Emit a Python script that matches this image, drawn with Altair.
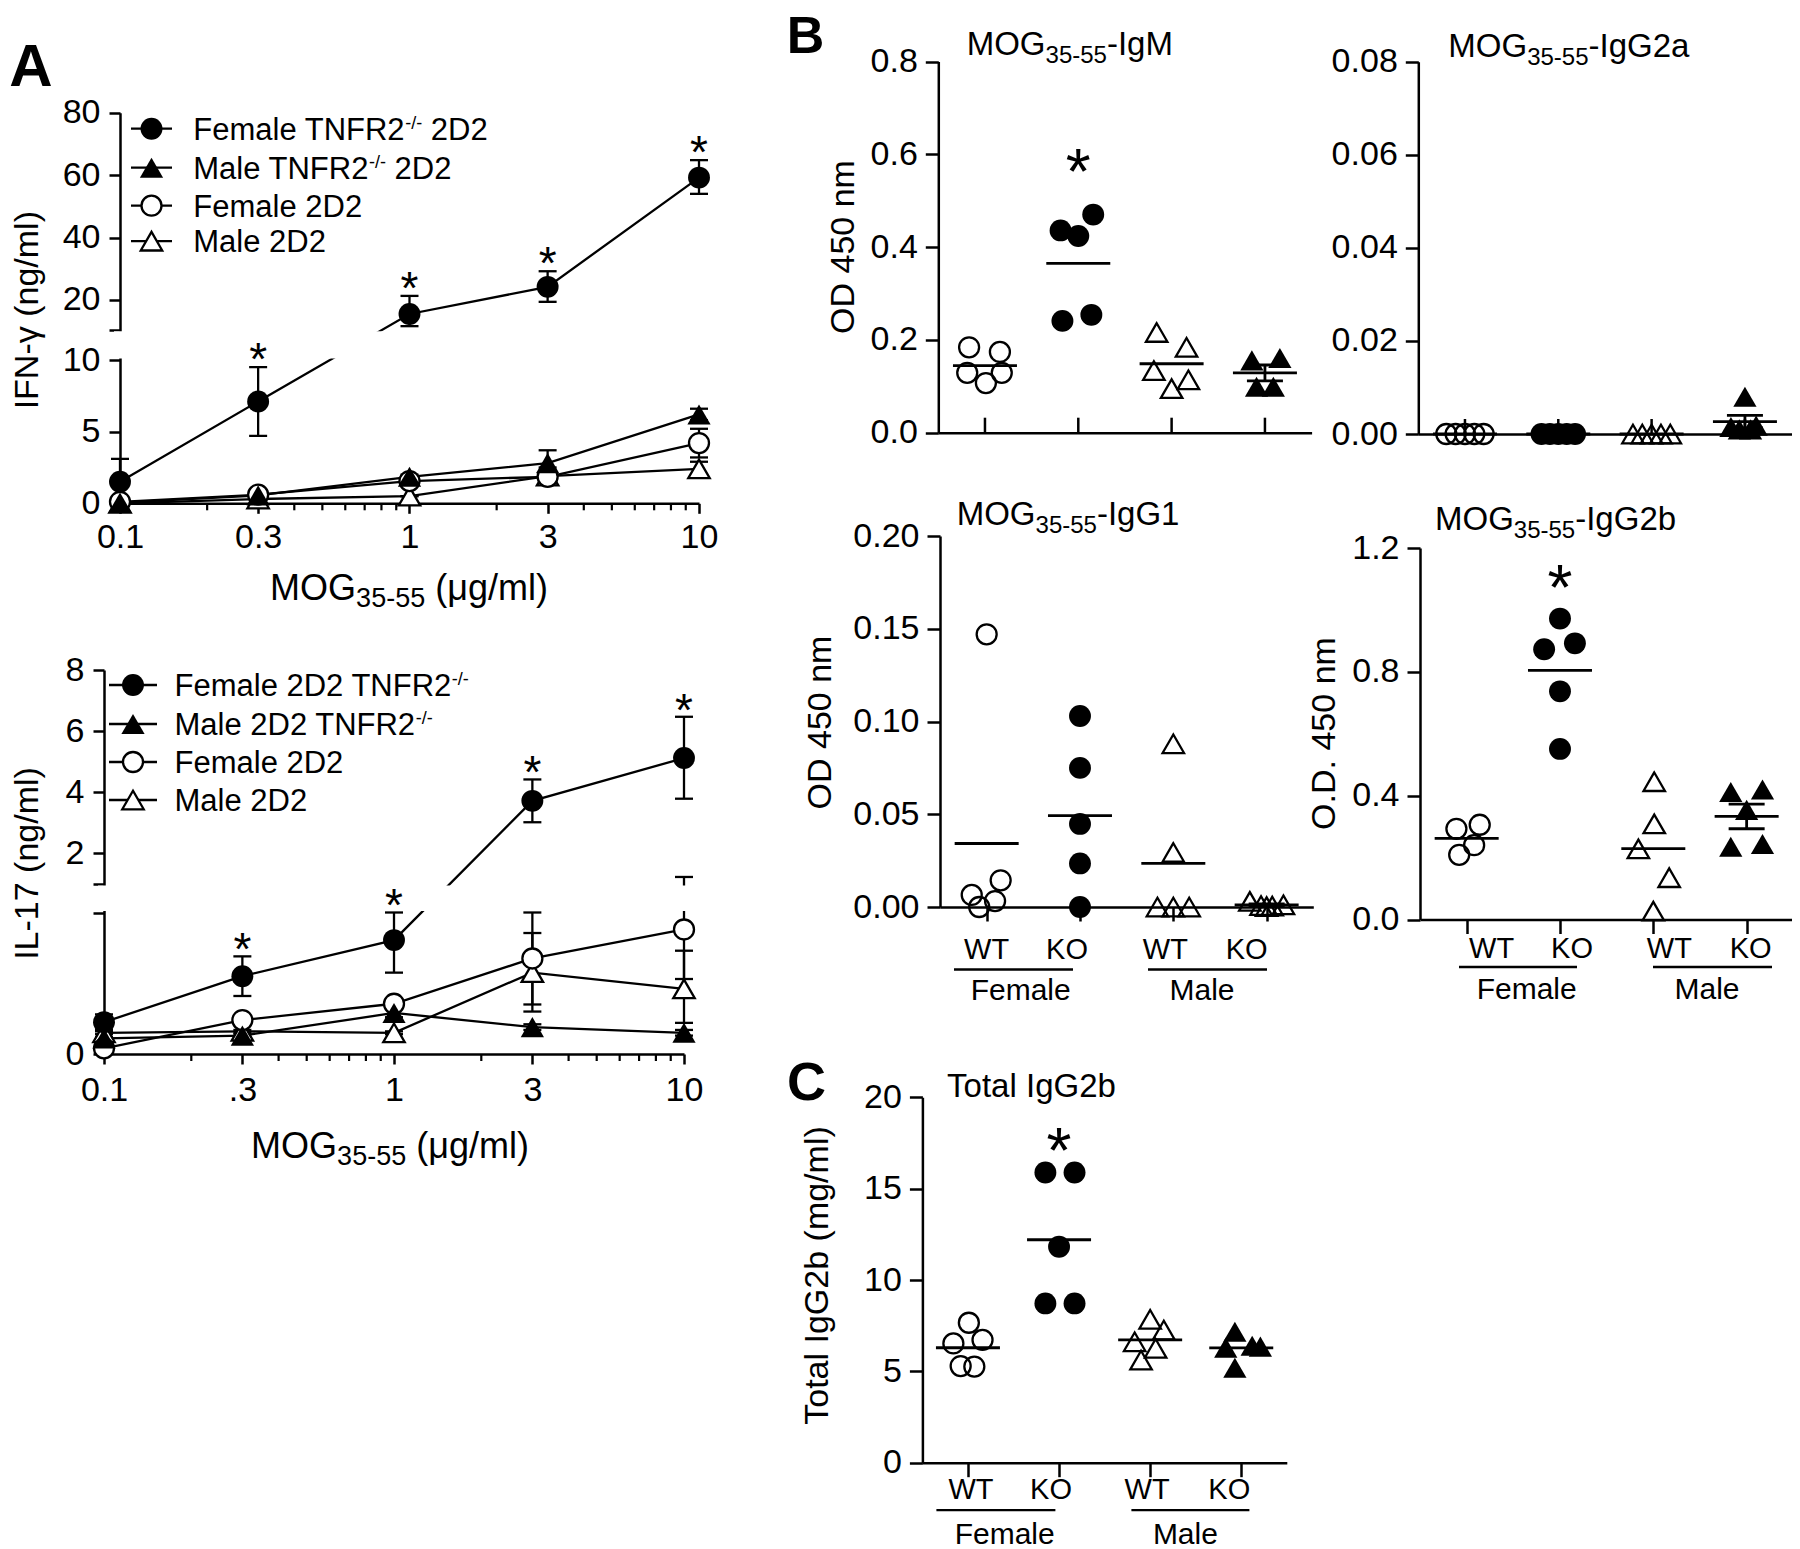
import json
import altair as alt
import pandas as pd

FONT = "Liberation Sans, Arial, Helvetica, sans-serif"
DUMMY = pd.DataFrame({"k": [0]})
CW, CH = 1784, 1541          # drawing area (page minus the 8px margin on top/left)

# ---------------- Panel A : dose response (IFN-gamma, IL-17) ----------------
doses = [0.1, 0.3, 1, 3, 10]
ifn_tick_labels = ["0.1", "0.3", "1", "3", "10"]
il_tick_labels = ["0.1", ".3", "1", "3", "10"]
minor_doses = [0.2, 0.4, 0.5, 0.6, 0.7, 0.8, 0.9, 2, 4, 5, 6, 7, 8, 9]

ifn_fc = [1.5, 7.1, 15.5, 24.2, 59.2]
ifn_fc_lo = [1.5, 4.7, 11.6, 19.4, 54.0]
ifn_fc_hi = [3.1, 9.5, 21.3, 29.2, 64.8]
ifn_ft = [0.05, 0.55, 1.85, 2.8, 6.2]
ifn_ft_lo = [0.05, 0.5, 1.7, 2.5, 5.8]
ifn_ft_hi = [0.05, 0.6, 2.0, 3.7, 6.6]
ifn_oc = [0.1, 0.6, 1.55, 1.85, 4.2]
ifn_oc_lo = [0.1, 0.55, 1.4, 1.65, 3.2]
ifn_oc_hi = [0.1, 0.65, 1.7, 2.05, 5.2]
ifn_ot = [0.0, 0.3, 0.5, 1.9, 2.4]
ifn_ot_lo = [0.0, 0.3, 0.5, 1.6, 1.8]
ifn_ot_hi = [0.0, 0.3, 0.5, 2.2, 2.9]

il_fc = [0.225, 0.55, 0.805, 3.72, 5.12]
il_fc_lo = [0.17, 0.41, 0.575, 3.02, 3.79]
il_fc_hi = [0.28, 0.69, 1.0, 4.42, 6.47]
il_ft = [0.11, 0.13, 0.29, 0.19, 0.15]
il_ft_lo = [0.10, 0.12, 0.26, 0.17, 0.13]
il_ft_hi = [0.12, 0.14, 0.32, 0.21, 0.17]
il_oc = [0.04, 0.24, 0.355, 0.675, 0.88]
il_oc_lo = [0.03, 0.22, 0.33, 0.35, 0.53]
il_oc_hi = [0.05, 0.26, 0.38, 1.0, 1.23]
il_ot = [0.15, 0.16, 0.15, 0.575, 0.46]
il_ot_lo = [0.14, 0.15, 0.14, 0.30, 0.22]
il_ot_hi = [0.16, 0.17, 0.16, 0.855, 0.73]

ifn_legend = [
    [("Female TNFR2", 31, 0), ("-/-", 18, -11), (" 2D2", 31, 0)],
    [("Male TNFR2", 31, 0), ("-/-", 18, -11), (" 2D2", 31, 0)],
    [("Female 2D2", 31, 0)],
    [("Male 2D2", 31, 0)],
]
il_legend = [
    [("Female 2D2 TNFR2", 31, 0), ("-/-", 18, -11)],
    [("Male 2D2 TNFR2", 31, 0), ("-/-", 18, -11)],
    [("Female 2D2", 31, 0)],
    [("Male 2D2", 31, 0)],
]

# ---------------- Panels B / C : dot plots ----------------
group_labels = ["WT", "KO", "WT", "KO"]
sex_labels = ["Female", "Male"]

igm_fwt = [0.184, 0.174, 0.129, 0.129, 0.107]
igm_fwt_dx = [-0.17, 0.16, -0.19, 0.18, 0.01]
igm_fko = [0.436, 0.424, 0.470, 0.241, 0.254]
igm_fko_dx = [-0.19, 0.0, 0.16, -0.17, 0.14]
igm_mwt = [0.216, 0.184, 0.134, 0.114, 0.095]
igm_mwt_dx = [-0.16, 0.16, -0.19, 0.18, 0.0]
igm_mko = [0.156, 0.161, 0.099, 0.099]
igm_mko_dx = [-0.14, 0.16, -0.09, 0.09]
igm_star = 0.595

igg2a_fwt = [0.0, 0.0, 0.0, 0.0, 0.0]
igg2a_fwt_dx = [-0.2, -0.1, 0.0, 0.1, 0.2]
igg2a_fko = [0.0, 0.0, 0.0, 0.0, 0.0]
igg2a_fko_dx = [-0.18, -0.09, 0.0, 0.09, 0.18]
igg2a_mwt = [0.0, 0.0, 0.0, 0.0, 0.0]
igg2a_mwt_dx = [-0.2, -0.1, 0.0, 0.1, 0.2]
igg2a_mko = [0.008, 0.0015, 0.0018, 0.001, 0.001]
igg2a_mko_dx = [0.0, -0.15, 0.12, -0.06, 0.06]

igg1_fwt = [0.147, 0.0144, 0.0065, 0.0032, 0.0]
igg1_fwt_dx = [0.0, 0.15, -0.16, 0.09, -0.08]
igg1_fko = [0.103, 0.075, 0.0448, 0.0235, 0.0]
igg1_fko_dx = [0.0, 0.0, 0.0, 0.0, 0.0]
igg1_mwt = [0.088, 0.0294, 0.0, 0.0, 0.0]
igg1_mwt_dx = [0.0, 0.0, -0.17, 0.0, 0.17]
igg1_mko = [0.003, 0.0008, 0.0005, 0.0012, 0.0002]
igg1_mko_dx = [-0.18, -0.06, 0.06, 0.18, 0.0]

igg2b_fwt = [0.293, 0.306, 0.240, 0.209]
igg2b_fwt_dx = [-0.11, 0.14, 0.08, -0.08]
igg2b_fko = [0.972, 0.873, 0.892, 0.737, 0.551]
igg2b_fko_dx = [0.0, -0.17, 0.16, 0.0, 0.0]
igg2b_mwt = [0.445, 0.309, 0.228, 0.135, 0.027]
igg2b_mwt_dx = [0.01, 0.01, -0.16, 0.17, 0.0]
igg2b_mko = [0.412, 0.420, 0.235, 0.244, 0.354]
igg2b_mko_dx = [-0.17, 0.17, -0.17, 0.17, 0.0]
igg2b_star = 1.119

tot_fwt = [7.66, 6.53, 6.72, 5.29, 5.26]
tot_fwt_dx = [0.01, -0.16, 0.16, -0.08, 0.07]
tot_fko = [15.88, 15.88, 11.82, 8.72, 8.72]
tot_fko_dx = [-0.15, 0.17, 0.0, -0.15, 0.17]
tot_mwt = [7.85, 7.26, 6.62, 6.26, 5.62]
tot_mwt_dx = [0.0, 0.15, -0.17, 0.06, -0.10]
tot_mko = [7.17, 6.3, 6.4, 6.35, 5.2]
tot_mko_dx = [-0.07, -0.17, 0.12, 0.21, -0.07]
tot_star = 17.9

# ---------------- helpers ----------------
AW = {" ": 278, "(": 333, ")": 333, "*": 389, "-": 333, ".": 278, "/": 278,
      "A": 667, "B": 667, "C": 722, "D": 722, "F": 611, "G": 778, "I": 278, "K": 667,
      "L": 556, "M": 833, "N": 722, "O": 778, "R": 722, "T": 611, "W": 944,
      "a": 556, "b": 556, "e": 556, "f": 278, "g": 556, "l": 222, "m": 833, "n": 556,
      "o": 556, "t": 278, "\u03bc": 576, "\u03b3": 500}


def tw(s, size):
    return sum(AW.get(c, 556) for c in s) * size / 1000.0


def txt(t, x, y, size, align="left", baseline="alphabetic", weight="normal"):
    return alt.Chart(DUMMY).mark_text(
        text=t, fontSize=size, align=align, baseline=baseline, font=FONT,
        color="black", fontWeight=weight
    ).encode(x=alt.value(x), y=alt.value(y))


def rich(parts, x, y, anchor="left"):
    total = sum(tw(t, sz) for t, sz, _ in parts)
    cx = x - total / 2.0 if anchor == "center" else x
    out = []
    for t, sz, dy in parts:
        lead = len(t) - len(t.lstrip(" "))
        cx += tw(" " * lead, sz)
        core = t.lstrip(" ")
        out.append(txt(core, cx, y + dy, sz))
        cx += tw(core, sz)
    return out


def hrule(x1, x2, y, w=2.5):
    return alt.Chart(DUMMY).mark_rule(color="black", strokeWidth=w).encode(
        x=alt.value(x1), x2=alt.value(x2), y=alt.value(y))


SHAPE = {"FC": "circle", "FT": "triangle-up", "OC": "circle", "OT": "triangle-up"}
SOLID = {"FC": True, "FT": True, "OC": False, "OT": False}


def point_mark(chart, shape, solid, white):
    if solid:
        return chart.mark_point(shape=shape, size=480 if shape == "circle" else 540,
                                filled=True, color="black", strokeWidth=0, opacity=1)
    if white:
        return chart.mark_point(shape=shape, size=400 if shape == "circle" else 460,
                                filled=True, fill="white", stroke="black",
                                strokeWidth=2.3, opacity=1)
    return chart.mark_point(shape=shape, size=400 if shape == "circle" else 460,
                            filled=False, color="black", strokeWidth=2.3, opacity=1)


def long_df(series):
    rows = []
    for k, (v, lo, hi) in series.items():
        for d, a, b, c in zip(doses, v, lo, hi):
            rows.append({"s": k, "dose": d, "v": a, "lo": b, "hi": c})
    return pd.DataFrame(rows)


def line_panel(df, origin, W, H, ydom, yrng, yticks, yhide_expr, tick_labels, ytitle,
               ytx, yty, xtitle_xy, mask, legend_rows, leg, star_gap, xlab_pad, extra=()):
    ox, oy = origin[0] - 8, origin[1] - 8      # plot origin in drawing coordinates
    xs = alt.Scale(type="log", domain=[0.1, 10], range=[ox, ox + W], nice=False)
    ys = alt.Scale(domain=ydom, range=[oy + r for r in yrng], nice=False, zero=False)
    xax = alt.Axis(orient="bottom", offset=oy + H - CH, values=doses,
                   labelExpr=f"{json.dumps(tick_labels)}[indexof({json.dumps(doses)}, datum.value)]",
                   tickSize=10, labelPadding=xlab_pad, labelFontSize=34, labelFlush=False,
                   labelBaseline="middle", title=None)
    yax = alt.Axis(orient="left", offset=-ox, values=yticks, format="d",
                   labelExpr=f"{yhide_expr} ? '' : datum.label",
                   tickSize=11, labelPadding=9, labelFontSize=34, title=ytitle,
                   titleX=ytx, titleY=oy + yty, titleAngle=270, titleAlign="center",
                   titleBaseline="middle", titleFontSize=34)

    def X(f, ax=False):
        return alt.X(f, type="quantitative", scale=xs, axis=xax if ax else None)

    def Y(f, ax=False):
        return alt.Y(f, type="quantitative", scale=ys, axis=yax if ax else None)

    base = alt.Chart(df)
    layers = [
        base.mark_line(color="black", strokeWidth=2.3).encode(
            x=X("dose", True), y=Y("v", True), detail="s:N"),
        base.mark_rule(color="black", strokeWidth=2.3).encode(
            x=X("dose"), y=Y("lo"), y2=alt.Y2("hi")),
        base.mark_tick(orient="horizontal", size=18, thickness=2.3, color="black",
                       opacity=1).encode(x=X("dose"), y=Y("lo")),
        base.mark_tick(orient="horizontal", size=18, thickness=2.3, color="black",
                       opacity=1).encode(x=X("dose"), y=Y("hi")),
        alt.Chart(pd.DataFrame({"m": minor_doses})).mark_rule(
            color="black", strokeWidth=2.2).encode(
            x=X("m"), y=alt.value(oy + H), y2=alt.value(oy + H + 7)),
        # white mask over the axis break
        alt.Chart(DUMMY).mark_rect(color="white").encode(
            x=alt.value(ox - 6), x2=alt.value(ox + W + 6),
            y=alt.value(oy + mask[0]), y2=alt.value(oy + mask[1])),
    ]
    for k in ["OT", "OC", "FT", "FC"]:
        layers.append(point_mark(base.transform_filter(alt.datum.s == k), SHAPE[k],
                                 SOLID[k], True).encode(x=X("dose"), y=Y("v")))
    layers.append(
        base.transform_filter((alt.datum.s == "FC") & (alt.datum.dose > 0.2)).mark_text(
            text="*", fontSize=46, align="center", baseline="alphabetic", font=FONT,
            color="black", dy=-star_gap + 0.584 * 46).encode(x=X("dose"), y=Y("hi")))
    lx1, lx2, mx, tx, rows_y = leg
    for key, parts, ry in zip(["FC", "FT", "OC", "OT"], legend_rows, rows_y):
        layers.append(hrule(ox + lx1, ox + lx2, oy + ry, 2.3))
        layers.append(point_mark(alt.Chart(DUMMY), SHAPE[key], SOLID[key], True).encode(
            x=alt.value(ox + mx), y=alt.value(oy + ry)))
        layers += rich(parts, ox + tx, oy + ry + 11)
    layers += rich([("MOG", 36, 0), ("35-55", 27, 7), (" (\u03bcg/ml)", 36, 0)],
                   ox + xtitle_xy[0], oy + xtitle_xy[1], anchor="center")
    for t, lx, ly, sz in extra:
        layers.append(txt(t, ox + lx, oy + ly, sz, weight="bold"))
    return layers


def dot_panel(groups, origin, W, H, ydom, yticks, yfmt, ytitle, ytx, yty, title_parts,
              title_xy, star=None, sem=True, inward=True, xlab=None, sex=None,
              g4_open=False, letter=None):
    ox, oy = origin[0] - 8, origin[1] - 8
    rows = []
    for gi, (vals, dxs) in enumerate(groups, start=1):
        for v, d in zip(vals, dxs):
            rows.append({"g": gi, "dx": d, "v": v})
    df = pd.DataFrame(rows)
    xs = alt.Scale(domain=[0.5, 4.5], range=[ox, ox + W], nice=False, zero=False)
    ys = alt.Scale(domain=ydom, range=[oy + H, oy], nice=False, zero=False)
    if inward:
        xax = alt.Axis(orient="bottom", offset=oy + H - CH, values=[1, 2, 3, 4],
                       ticks=False, labels=False, title=None)
    else:
        xax = alt.Axis(orient="bottom", offset=oy + H - CH, values=[1, 2, 3, 4],
                       tickSize=14, labels=False, title=None)
    ykw = dict(orient="left", offset=-ox, values=yticks, format=yfmt, tickSize=13,
               labelPadding=8, labelFontSize=34)
    if ytitle:
        yax = alt.Axis(title=ytitle, titleX=ytx, titleY=oy + yty, titleAngle=270,
                       titleAlign="center", titleBaseline="middle", titleFontSize=34, **ykw)
    else:
        yax = alt.Axis(title=None, **ykw)

    def X(f, ax=False):
        return alt.X(f, type="quantitative", scale=xs, axis=xax if ax else None)

    def Y(f, ax=False):
        return alt.Y(f, type="quantitative", scale=ys, axis=yax if ax else None)

    base = alt.Chart(df)
    layers = [
        base.mark_tick(orient="horizontal", size=64, thickness=2.8, color="black",
                       opacity=1).encode(x=X("g", True), y=Y("mean(v)", True)),
    ]
    styles = {1: ("circle", False), 2: ("circle", True), 3: ("triangle-up", False),
              4: ("triangle-up", not g4_open)}
    pts = base.transform_calculate(xp="datum.g + datum.dx")
    for g in [1, 2, 3, 4]:
        shape, solid = styles[g]
        layers.append(point_mark(pts.transform_filter(alt.datum.g == g), shape, solid,
                                 False).encode(x=X("xp"), y=Y("v")))
    if sem:
        agg = base.transform_filter(alt.datum.g == 4).transform_aggregate(
            m="mean(v)", se="stderr(v)", groupby=["g"]).transform_calculate(
            lo="datum.m - datum.se", hi="datum.m + datum.se")
        layers += [
            agg.mark_rule(color="black", strokeWidth=2.8).encode(
                x=X("g"), y=Y("lo"), y2=alt.Y2("hi")),
            agg.mark_tick(orient="horizontal", size=36, thickness=2.8, color="black",
                          opacity=1).encode(x=X("g"), y=Y("lo")),
            agg.mark_tick(orient="horizontal", size=36, thickness=2.8, color="black",
                          opacity=1).encode(x=X("g"), y=Y("hi")),
        ]
    if inward:
        layers.append(alt.Chart(pd.DataFrame({"g": [1, 2, 3, 4]})).mark_rule(
            color="black", strokeWidth=2.5).encode(
            x=X("g"), y=alt.value(oy + H), y2=alt.value(oy + H - 15)))
    if xlab is not None:
        ly, offs = xlab
        for g, (lab, off) in enumerate(zip(group_labels, offs), start=1):
            layers.append(alt.Chart(pd.DataFrame({"g": [g], "t": [lab]})).mark_text(
                fontSize=29, align="center", baseline="middle", font=FONT, color="black",
                dx=off).encode(x=X("g"), y=alt.value(oy + H + ly), text="t:N"))
    if star is not None:
        layers.append(alt.Chart(pd.DataFrame({"g": [2], "v": [star]})).mark_text(
            text="*", fontSize=64, align="center", baseline="alphabetic", font=FONT,
            color="black", dy=0.584 * 64).encode(x=X("g"), y=Y("v")))
    layers += rich(title_parts, ox + title_xy[0], oy + title_xy[1])
    if sex is not None:
        ly, fl, ml, fx, mx, ty = sex
        layers += [hrule(ox + fl[0], ox + fl[1], oy + H + ly, 2.3),
                   hrule(ox + ml[0], ox + ml[1], oy + H + ly, 2.3),
                   txt(sex_labels[0], ox + fx, oy + H + ty, 30, align="center",
                       baseline="middle"),
                   txt(sex_labels[1], ox + mx, oy + H + ty, 30, align="center",
                       baseline="middle")]
    if letter is not None:
        t, lx, ly, sz = letter
        layers.append(txt(t, ox + lx, oy + ly, sz, weight="bold"))
    return layers


# ---------------- build panels ----------------
ifn_df = long_df({"FC": (ifn_fc, ifn_fc_lo, ifn_fc_hi), "FT": (ifn_ft, ifn_ft_lo, ifn_ft_hi),
                  "OC": (ifn_oc, ifn_oc_lo, ifn_oc_hi), "OT": (ifn_ot, ifn_ot_lo, ifn_ot_hi)})
il_df = long_df({"FC": (il_fc, il_fc_lo, il_fc_hi), "FT": (il_ft, il_ft_lo, il_ft_hi),
                 "OC": (il_oc, il_oc_lo, il_oc_hi), "OT": (il_ot, il_ot_lo, il_ot_hi)})

layers = []
TA_W, TA_H = 579, 390.6
layers += line_panel(
    ifn_df, (120, 112.7), TA_W, TA_H, ydom=[0, 10, 10.5, 80], yrng=[TA_H, 247.3, 216.9, 0],
    yticks=[0, 5, 10, 10.5, 20, 40, 60, 80], yhide_expr="datum.value == 10.5",
    tick_labels=ifn_tick_labels, ytitle="IFN-\u03b3 (ng/ml)", ytx=-93, yty=197,
    xtitle_xy=(289, 487.3), mask=(218.5, 245.7), legend_rows=ifn_legend,
    leg=(11, 52, 31.5, 73.3, [16, 55, 93, 128.5]), star_gap=19, xlab_pad=24,
    extra=[("A", -110.8, -26.7, 60)])

BA_W, BA_H = 580, 384
layers += line_panel(
    il_df, (104, 670), BA_W, BA_H, ydom=[0, 1, 1.0001, 8], yrng=[BA_H, 242.5, 214, 0],
    yticks=[0, 1, 1.0001, 2, 4, 6, 8], yhide_expr="(datum.value > 0.5 && datum.value < 1.5)",
    tick_labels=il_tick_labels, ytitle="IL-17 (ng/ml)", ytx=-77, yty=193,
    xtitle_xy=(286, 487.6), mask=(215.6, 240.9), legend_rows=il_legend,
    leg=(5, 53, 29, 70.5, [15, 54, 92, 130]), star_gap=18, xlab_pad=26)

PW = 373.3
layers += dot_panel(
    [(igm_fwt, igm_fwt_dx), (igm_fko, igm_fko_dx), (igm_mwt, igm_mwt_dx), (igm_mko, igm_mko_dx)],
    (938.3, 61.5), PW, 371.2, [0, 0.8], [0, 0.2, 0.4, 0.6, 0.8], ".1f", "OD 450 nm",
    -94.7, 185, [("MOG", 33, 0), ("35-55", 24, 8), ("-IgM", 33, 0)], (28.4, -6.5),
    star=igm_star, letter=("B", -151.6, -9, 52))

layers += dot_panel(
    [(igg2a_fwt, igg2a_fwt_dx), (igg2a_fko, igg2a_fko_dx), (igg2a_mwt, igg2a_mwt_dx),
     (igg2a_mko, igg2a_mko_dx)],
    (1418.3, 61.7), PW, 372.3, [0, 0.08], [0, 0.02, 0.04, 0.06, 0.08], ".2f", None, 0, 0,
    [("MOG", 33, 0), ("35-55", 24, 8), ("-IgG2a", 33, 0)], (30, -4.4))

layers += dot_panel(
    [(igg1_fwt, igg1_fwt_dx), (igg1_fko, igg1_fko_dx), (igg1_mwt, igg1_mwt_dx),
     (igg1_mko, igg1_mko_dx)],
    (940, 536), PW, 371, [0, 0.2], [0, 0.05, 0.10, 0.15, 0.20], ".2f", "OD 450 nm",
    -120, 186, [("MOG", 33, 0), ("35-55", 24, 8), ("-IgG1", 33, 0)], (16.7, -11),
    inward=False, xlab=(42.5, [0, -13, -8, -20]), g4_open=True,
    sex=(62.5, (14, 133), (208, 327), 80.7, 262, 83.7))

layers += dot_panel(
    [(igg2b_fwt, igg2b_fwt_dx), (igg2b_fko, igg2b_fko_dx), (igg2b_mwt, igg2b_mwt_dx),
     (igg2b_mko, igg2b_mko_dx)],
    (1420, 548), PW, 371.5, [0, 1.2], [0, 0.4, 0.8, 1.2], ".1f", "O.D. 450 nm",
    -96, 185, [("MOG", 33, 0), ("35-55", 24, 8), ("-IgG2b", 33, 0)], (15, -18),
    star=igg2b_star, inward=False, xlab=(29.5, [25, 12, 16, 4]),
    sex=(47.5, (39, 157), (233, 352), 106.7, 287, 70.2))

layers += dot_panel(
    [(tot_fwt, tot_fwt_dx), (tot_fko, tot_fko_dx), (tot_mwt, tot_mwt_dx), (tot_mko, tot_mko_dx)],
    (922.4, 1097.3), 364.4, 365.4, [0, 20], [0, 5, 10, 15, 20], "d", "Total IgG2b (mg/ml)",
    -105, 177.7, [("Total IgG2b", 33, 0)], (24.7, -0.6), star=tot_star, sem=False,
    inward=False, xlab=(27, [3, -8, -3, -12]),
    sex=(47.4, (14, 133), (209, 327), 82.3, 263, 72.5), letter=("C", -135.3, 2.7, 54))

chart = alt.layer(*layers).resolve_scale(
    x="independent", y="independent"
).properties(
    width=CW, height=CH, autosize=alt.AutoSizeParams(type="none"), padding=0,
    background="white"
).configure_view(strokeWidth=0).configure_axis(
    domainColor="black", domainWidth=2.5, tickColor="black", tickWidth=2.5,
    labelColor="black", titleColor="black", labelFont=FONT, titleFont=FONT,
    titleFontWeight="normal", grid=False
)

chart.save("out.html", embed_options={"renderer": "svg", "actions": False})
